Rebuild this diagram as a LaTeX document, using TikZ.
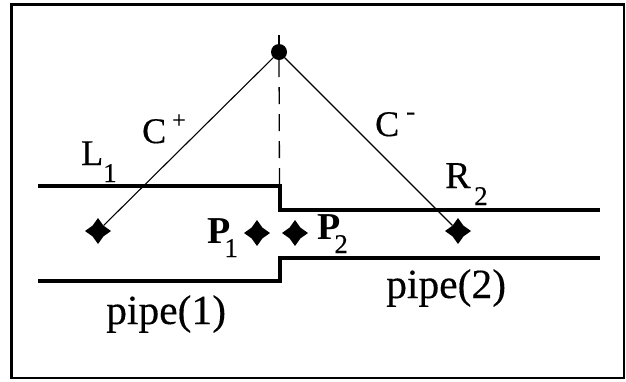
\documentclass[tikz,border=0pt]{standalone}
\usepackage{fontspec}
\usetikzlibrary{shapes.geometric}
\setmainfont{Liberation Serif}
\newfontfamily\heavy{Liberation Serif}[FakeBold=0.35]
\newfontfamily\heavybf{Liberation Serif Bold}
\newcommand{\fs}[1]{\fontsize{#1}{#1}\selectfont}
\newcommand{\boldsub}[2]{\fs{38}\heavybf #1\kern-6pt\raisebox{-14pt}{\fs{27}\heavy #2}}
\tikzset{
 x=1pt,y=-1pt,
 pipeline/.style={line width=4pt,miter limit=10},
 ray/.style={line width=1.1pt},
 dia/.style={star,star points=4,star point ratio=1.7,fill=black,inner sep=0pt,minimum size=26pt},
 apex/.style={circle,fill=black,inner sep=0pt,minimum size=16pt},
 lab/.style={inner sep=0pt,anchor=base west},
}
\begin{document}
\begin{tikzpicture}
\useasboundingbox (0,0) rectangle (626,381);
\fill[white] (0,0) rectangle (626,381);
\draw[line width=2.2pt] (11.5,4.5) rectangle (624,378);
\node[apex] (top) at (279,52) {};
\coordinate (topcap) at (279,35);
\node[dia] (L) at (98,231) {};
\node[dia] (R) at (458,231) {};
\node[dia] (P1) at (257,233) {};
\node[dia] (P2) at (295,233) {};
\coordinate (mid) at (279.5,186);
\draw[ray] (top) -- (L);
\draw[ray] (top) -- (R);
\draw[ray] (topcap) -- (top);
\draw[line width=1.3pt,dash pattern=on 17pt off 10pt] (top) -- (mid);
\draw[pipeline] (38,186) -- (mid) -- (279.5,209.5) -- (600,209.5);
\draw[pipeline] (38,280.5) -- (279.5,280.5) -- (279.5,257.5) -- (600,257.5);
\node[lab] (lL) at (81,165) {\fs{36}\heavy L};
\node[lab] (lL1) at (103,182) {\fs{27}\heavy 1};
\node[lab] (lC) at (142,143) {\fs{36}\heavy C};
\node[lab] (lCp) at (172,128) {\fs{24}\heavy +};
\node[lab] (lCm) at (375,136) {\fs{36}\heavy C};
\node[lab] (lCms) at (406,120) {\fs{27}\heavy -};
\node[lab] (lR) at (445,188) {\fs{38}\heavy R};
\node[lab] (lR2) at (474,205) {\fs{27}\heavy 2};
\node[lab] (lP1) at (207,243) {\boldsub{P}{1}};
\node[lab] (lP2) at (317,239) {\boldsub{P}{2}};
\node[lab] (p1) at (106,324) {\fs{41.5}\heavy pipe(1)};
\node[lab] (p2) at (386,298) {\fs{41.5}\heavy pipe(2)};
\end{tikzpicture}
\end{document}
